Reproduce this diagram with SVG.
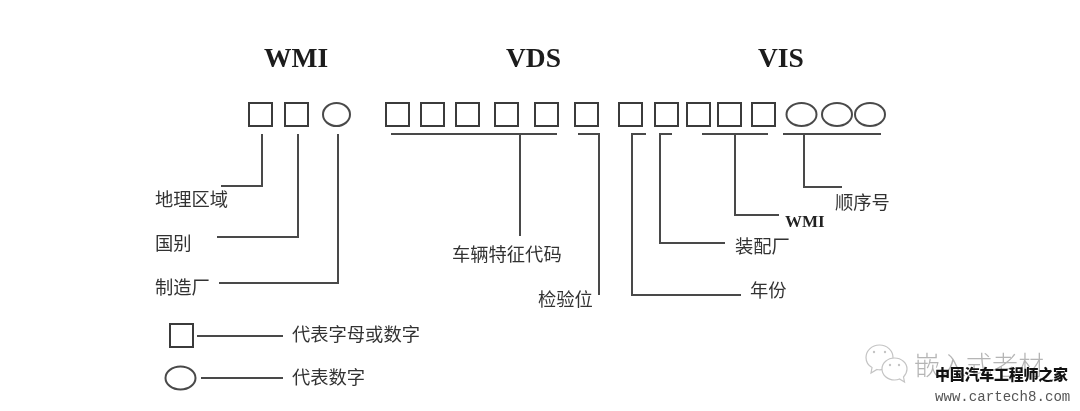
<svg xmlns="http://www.w3.org/2000/svg" width="1080" height="411" viewBox="0 0 1080 411">
<defs>
<filter id="soft" x="-5%" y="-5%" width="110%" height="110%"><feGaussianBlur stdDeviation="0.6"/></filter>
<rect id="sq" width="23" height="23"/>
</defs>
<style>
.box{fill:none;stroke:#3a3a3a;stroke-width:2}
.oval{fill:none;stroke:#4a4a4a;stroke-width:2}
.wire{fill:none;stroke:#4a4a4a;stroke-width:2}
.head{font-family:"Liberation Serif",serif;font-weight:700;font-size:27.500px;fill:#1a1a1a}
.sub{font-family:"Liberation Serif",serif;font-weight:700;font-size:17px;fill:#222}
.cn{font-family:"Noto Sans CJK SC",sans-serif;font-size:18.300px;fill:#333}
.wm{font-family:"Noto Sans CJK SC",sans-serif;font-size:26px;fill:#b5b5b5;font-weight:300}
.wb{font-family:"Noto Sans CJK SC",sans-serif;font-size:15px;font-weight:900;fill:#111}
.url{font-family:"Liberation Mono",monospace;font-size:14.100px;fill:#555}
.ic{fill:#fff;stroke:#c4c4c4;stroke-width:1.2}
.eye{fill:#c4c4c4}
</style>
<rect width="1080" height="411" fill="#fff"/>
<g filter="url(#soft)">
<g id="headings">
<text class="head" x="264" y="67">WMI</text>
<text class="head" x="506" y="67">VDS</text>
<text class="head" x="758" y="67">VIS</text>
</g>
<g id="wmi-cells">
<use href="#sq" class="box" x="249" y="103"/>
<use href="#sq" class="box" x="285" y="103"/>
<ellipse class="oval" cx="336.500" cy="114.500" rx="13.500" ry="11.500"/>
</g>
<g id="vds-cells">
<use href="#sq" class="box" x="386" y="103"/>
<use href="#sq" class="box" x="421" y="103"/>
<use href="#sq" class="box" x="456" y="103"/>
<use href="#sq" class="box" x="495" y="103"/>
<use href="#sq" class="box" x="535" y="103"/>
<use href="#sq" class="box" x="575" y="103"/>
</g>
<g id="vis-cells">
<use href="#sq" class="box" x="619" y="103"/>
<use href="#sq" class="box" x="655" y="103"/>
<use href="#sq" class="box" x="687" y="103"/>
<use href="#sq" class="box" x="718" y="103"/>
<use href="#sq" class="box" x="752" y="103"/>
<ellipse class="oval" cx="801.500" cy="114.500" rx="15" ry="11.500"/>
<ellipse class="oval" cx="837" cy="114.500" rx="15" ry="11.500"/>
<ellipse class="oval" cx="870" cy="114.500" rx="15" ry="11.500"/>
</g>
<g id="connectors">
<path class="wire" d="M262 134V186H221"/>
<path class="wire" d="M298 134V237H217"/>
<path class="wire" d="M338 134V283H219"/>
<path class="wire" d="M391 134H557M520 134V236"/>
<path class="wire" d="M578 134H599V295"/>
<path class="wire" d="M646 134H632V295H741"/>
<path class="wire" d="M672 134H660V243H725"/>
<path class="wire" d="M702 134H768M735 134V215H779"/>
<path class="wire" d="M783 134H881M804 134V187H842"/>
<path class="wire" d="M197 336H283"/>
<path class="wire" d="M201 378H283"/>
</g>
<g id="label-region"><text class="cn" x="155" y="206">地理区域</text></g>
<g id="label-country"><text class="cn" x="155" y="250">国别</text></g>
<g id="label-maker"><text class="cn" x="155" y="294">制造厂</text></g>
<g id="label-vds"><text class="cn" x="452" y="261">车辆特征代码</text></g>
<g id="label-check"><text class="cn" x="538" y="306">检验位</text></g>
<g id="label-year"><text class="cn" x="750" y="297">年份</text></g>
<g id="label-plant"><text class="cn" x="735" y="253">装配厂</text></g>
<g id="label-wmi"><text class="sub" x="785" y="227">WMI</text></g>
<g id="label-seq"><text class="cn" x="835" y="209">顺序号</text></g>
<g id="legend-square">
<use href="#sq" class="box" x="170" y="324"/>
<text class="cn" x="292" y="341">代表字母或数字</text>
</g>
<g id="legend-circle">
<ellipse class="oval" cx="180.500" cy="378" rx="15" ry="11.500"/>
<text class="cn" x="292" y="384">代表数字</text>
</g>
</g>
<g id="watermark">
<path class="ic" d="M879.500 345C871.500 345 866 351 866 357.500C866 362 868.500 365.500 872 367.500L871 373L877 369.500C885 371 893 365.500 893 357.500C893 351 887.500 345 879.500 345Z"/>
<path class="ic" d="M894.500 358C887.500 358 882 363 882 369C882 375 887.500 380 894.500 380C896.500 380 898 379.700 899.500 379L904.500 382L903.500 377C905.500 374.800 907 372 907 369C907 363 901.500 358 894.500 358Z"/>
<circle class="eye" cx="874" cy="352" r="1.200"/><circle class="eye" cx="885" cy="352" r="1.200"/>
<circle class="eye" cx="890" cy="365" r="1.200"/><circle class="eye" cx="899" cy="365" r="1.200"/>
<text class="wm" x="914" y="375">嵌入式老材</text>
<text class="wb" x="935" y="380" textLength="133">中国汽车工程师之家</text>
<text class="url" x="935" y="401">www.cartech8.com</text>
</g>
</svg>
